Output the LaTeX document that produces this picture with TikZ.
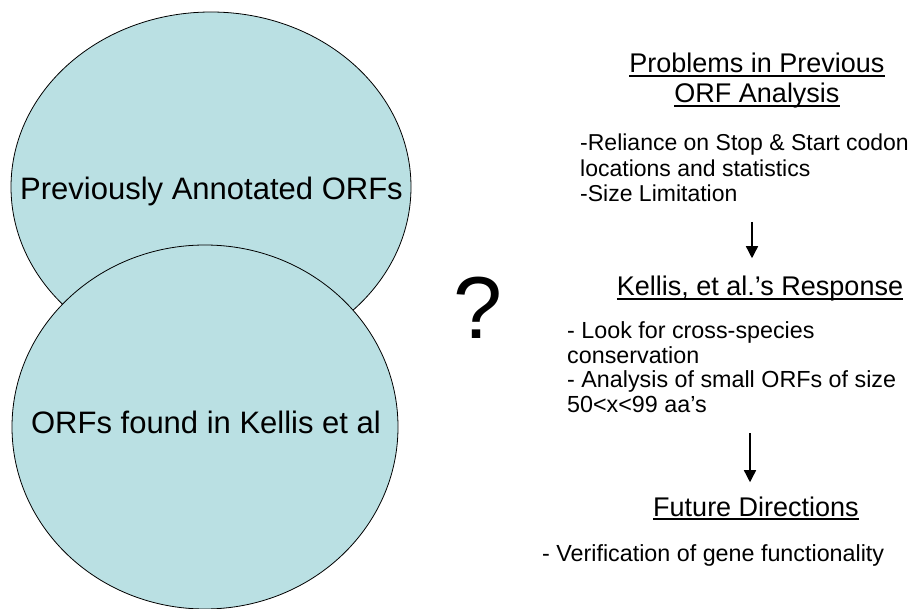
\documentclass[tikz,border=0pt]{standalone}
\usepackage{fontspec}
\setmainfont{Liberation Sans}
\usetikzlibrary{arrows.meta}
\definecolor{vennblue}{RGB}{186,224,227}
% underline placed a little under the baseline
\newcommand\headul[1]{\setbox0\hbox{#1}\rlap{\vrule height -2.2pt depth 3.6pt width \wd0}\box0}
\tikzset{
  blob/.style={fill=vennblue,draw=black,line width=0.8pt},
  bigtxt/.style={inner sep=0pt,anchor=base,font=\fontsize{31}{35}\selectfont},
  head/.style={inner sep=0pt,anchor=base,align=center,font=\fontsize{27}{30}\selectfont},
  body/.style={inner sep=0pt,anchor=base west,align=left,font=\fontsize{23.3}{24.5}\selectfont},
  flow/.style={line width=1.4pt,-{Triangle[width=12pt,length=12pt]}}
}
\begin{document}
\begin{tikzpicture}[x=1pt,y=-1pt]
\useasboundingbox (0,0) rectangle (915,609);
% the two overlapping sets
\draw[blob] (211,187) ellipse [x radius=200, y radius=175];
\draw[blob] (205,427) ellipse [x radius=193, y radius=182];
\node[bigtxt] (prev) at (211.5,200) {Previously Annotated ORFs};
\node[bigtxt] (kell) at (206,433) {ORFs found in Kellis et al};
\node[inner sep=0pt,anchor=base,font=\fontsize{88}{90}\selectfont] (qm) at (478,338) {?};
% right column (base = baseline of the last line)
\node[head] (h1) at (757,103) {\headul{Problems in Previous}\\[0pt]\headul{ORF Analysis}};
\node[body,font=\fontsize{23}{25.5}\selectfont] (probs) at (580,202) {-Reliance on Stop \& Start codon\\locations and statistics\\-Size Limitation};
\node[head] (h2) at (760,296) {\headul{Kellis, et al.’s Response}};
\node[body] (resp) at (567,412) {- Look for cross-species\\conservation\\- Analysis of small ORFs of size\\50<x<99 aa’s};
\node[head] (h3) at (756,516) {\headul{Future Directions}};
\node[body] (fut) at (542,561) {- Verification of gene functionality};
\coordinate (a1) at (752,222); \coordinate (a2) at (750,433);
\draw[flow,shorten >=18pt] (a1) -- (a1 |- h2.north);
\draw[flow,shorten >=14pt] (a2) -- (a2 |- h3.north);
\end{tikzpicture}
\end{document}
